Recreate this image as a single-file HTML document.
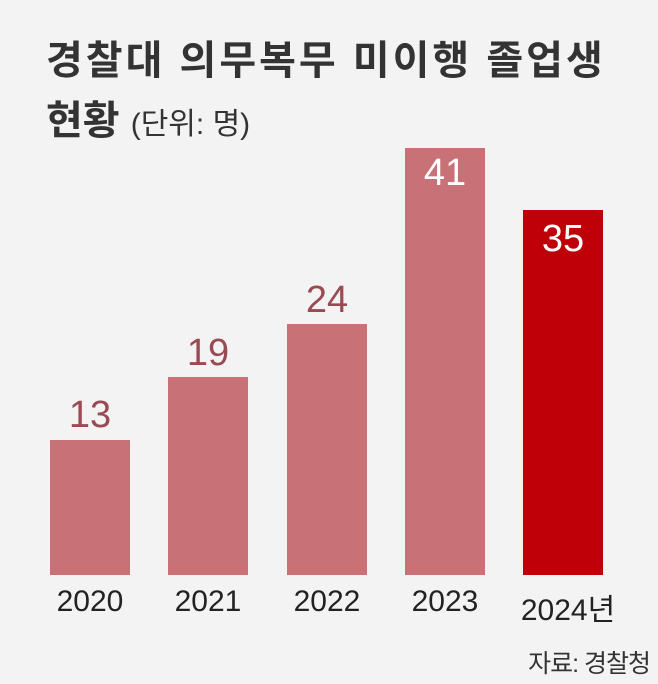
<!DOCTYPE html>
<html><head><meta charset="utf-8"><style>
html,body{margin:0;padding:0}
body{width:658px;height:684px;background:#f3f3f3;position:relative;overflow:hidden;font-family:"Liberation Sans","Noto Sans CJK KR",sans-serif}
.t{position:absolute;white-space:nowrap}
.bar{position:absolute;width:80px;background:#c87277;bottom:109px}
.v{position:absolute;width:80px;text-align:center;font-size:38px;color:#9a4a52;font-family:"Liberation Sans",sans-serif}
.y{position:absolute;width:120px;text-align:center;font-size:30px;color:#222;top:585px}
</style></head><body>
<div class="t" style="left:46px;top:28px;font-size:40px;font-weight:bold;color:#333;letter-spacing:3px">경찰대 의무복무 미이행 졸업생</div>
<div class="t" style="left:46px;top:88px;font-size:40px;font-weight:bold;color:#333">현황 <span style="font-weight:normal;font-size:30px">(단위: 명)</span></div>

<div class="bar" style="left:50px;top:440px"></div>
<div class="bar" style="left:168px;top:377px"></div>
<div class="bar" style="left:287px;top:324px"></div>
<div class="bar" style="left:405px;top:148px"></div>
<div class="bar" style="left:523px;top:210px;background:#c00008"></div>

<div class="v" style="left:50px;top:394px">13</div>
<div class="v" style="left:168px;top:332px">19</div>
<div class="v" style="left:287px;top:279px">24</div>
<div class="v" style="left:405px;top:152px;color:#fff">41</div>
<div class="v" style="left:523px;top:218px;color:#fff">35</div>

<div class="y" style="left:30px">2020</div>
<div class="y" style="left:148px">2021</div>
<div class="y" style="left:267px">2022</div>
<div class="y" style="left:385px">2023</div>
<div class="y" style="left:508px">2024년</div>

<div class="t" style="right:8px;top:644px;font-size:25px;color:#333;letter-spacing:-1px">자료: 경찰청</div>
</body></html>
